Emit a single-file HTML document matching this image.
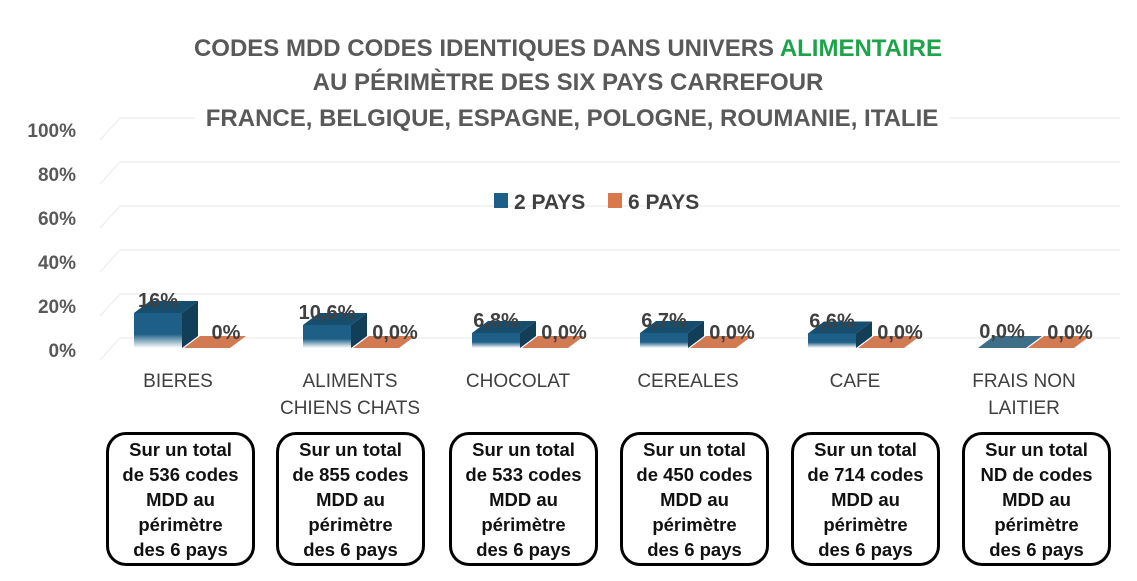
<!DOCTYPE html>
<html><head><meta charset="utf-8"><style>
body{margin:0;background:#fff;width:1137px;height:581px;overflow:hidden;font-family:"Liberation Sans",sans-serif}
.box{position:absolute;top:432px;width:143px;height:126px;border:3px solid #000;border-radius:20px;text-align:center;font-weight:bold;font-size:18.5px;line-height:25px;color:#111;padding-top:2px;box-sizing:content-box}
</style></head><body>
<svg width="1137" height="581" style="position:absolute;left:0;top:0" font-family="Liberation Sans, sans-serif">
<defs>
<linearGradient id="g" x1="0" y1="0" x2="0" y2="1"><stop offset="0" stop-color="#1d5f86"/><stop offset="0.6" stop-color="#1d5f86"/><stop offset="1" stop-color="#ffffff"/></linearGradient>
</defs>
<g stroke="#ececec" stroke-width="1.2" fill="none">
<path d="M100 140 L120 118 H1120"/><path d="M100 184 L120 162 H1120"/><path d="M100 228 L120 206 H1120"/><path d="M100 272 L120 250 H1120"/><path d="M100 316 L120 294 H1120"/><path d="M100 360 L120 338 H1120"/>
</g>
<rect x="195" y="100" width="755" height="30" fill="#fff"/>
<g font-weight="bold" font-size="24" fill="#595959" text-anchor="middle">
<text x="568" y="56">CODES MDD CODES IDENTIQUES DANS UNIVERS <tspan fill="#1fa34a">ALIMENTAIRE</tspan></text>
<text x="568" y="90">AU PÉRIMÈTRE DES SIX PAYS CARREFOUR</text>
<text x="572" y="126">FRANCE, BELGIQUE, ESPAGNE, POLOGNE, ROUMANIE, ITALIE</text>
</g>
<g font-weight="bold" font-size="19" fill="#595959" text-anchor="end">
<text x="76" y="137">100%</text><text x="76" y="181">80%</text><text x="76" y="225">60%</text><text x="76" y="269">40%</text><text x="76" y="313">20%</text><text x="76" y="357">0%</text>
</g>
<g font-weight="bold" font-size="21" fill="#404040">
<rect x="494" y="193" width="14" height="15" fill="#1d5f86"/><text x="514" y="209">2 PAYS</text>
<rect x="608" y="193" width="14" height="15" fill="#d9784a"/><text x="628" y="209">6 PAYS</text>
</g>
<g id="bars"></g>
<g font-size="19" fill="#404040" text-anchor="middle">
<text x="178" y="387">BIERES</text>
<text x="350" y="387">ALIMENTS</text><text x="350" y="414">CHIENS CHATS</text>
<text x="518" y="387">CHOCOLAT</text>
<text x="688" y="387">CEREALES</text>
<text x="855" y="387">CAFE</text>
<text x="1024" y="387">FRAIS NON</text><text x="1024" y="414">LAITIER</text>
</g>
</svg>
<div class="box" style="left:106px">Sur un total<br>de 536 codes<br>MDD au<br>périmètre<br>des 6 pays</div>
<div class="box" style="left:276px">Sur un total<br>de 855 codes<br>MDD au<br>périmètre<br>des 6 pays</div>
<div class="box" style="left:449px">Sur un total<br>de 533 codes<br>MDD au<br>périmètre<br>des 6 pays</div>
<div class="box" style="left:620px">Sur un total<br>de 450 codes<br>MDD au<br>périmètre<br>des 6 pays</div>
<div class="box" style="left:791px">Sur un total<br>de 714 codes<br>MDD au<br>périmètre<br>des 6 pays</div>
<div class="box" style="left:962px">Sur un total<br>ND de codes<br>MDD au<br>périmètre<br>des 6 pays</div>
<script>
var xs=[134,303,472,640,808,978],hs=[35,23,15,15,14.5,0],lb=["16%","10,6%","6,8%","6,7%","6,6%","0,0%"],ol=["0%","0,0%","0,0%","0,0%","0,0%","0,0%"];
var s="";
for(var i=0;i<6;i++){var x=xs[i],b=348,h=hs[i],t=b-h;
if(h>0){s+='<rect x="'+x+'" y="'+t+'" width="48" height="'+h+'" fill="url(#g)"/>';
s+='<polygon points="'+x+','+t+' '+(x+16)+','+(t-12)+' '+(x+64)+','+(t-12)+' '+(x+48)+','+t+'" fill="#174d6d"/>';
s+='<polygon points="'+(x+48)+','+t+' '+(x+64)+','+(t-12)+' '+(x+64)+','+(b-12)+' '+(x+48)+','+b+'" fill="#123e58"/>';}
else{s+='<polygon points="'+x+','+b+' '+(x+16)+','+(b-12)+' '+(x+64)+','+(b-12)+' '+(x+48)+','+b+'" fill="#3f6f88"/>';}
s+='<polygon points="'+(x+50)+','+b+' '+(x+66)+','+(b-12)+' '+(x+112)+','+(b-12)+' '+(x+96)+','+b+'" fill="#d27a52"/>';
var ly=h>0?t-6:b-10;
s+='<text x="'+(x+24)+'" y="'+ly+'" font-weight="bold" font-size="20" fill="#404040" text-anchor="middle">'+lb[i]+'</text>';
s+='<text x="'+(x+92)+'" y="'+(b-9)+'" font-weight="bold" font-size="20" fill="#404040" text-anchor="middle">'+ol[i]+'</text>';}
document.getElementById("bars").innerHTML=s;
</script>
</body></html>
